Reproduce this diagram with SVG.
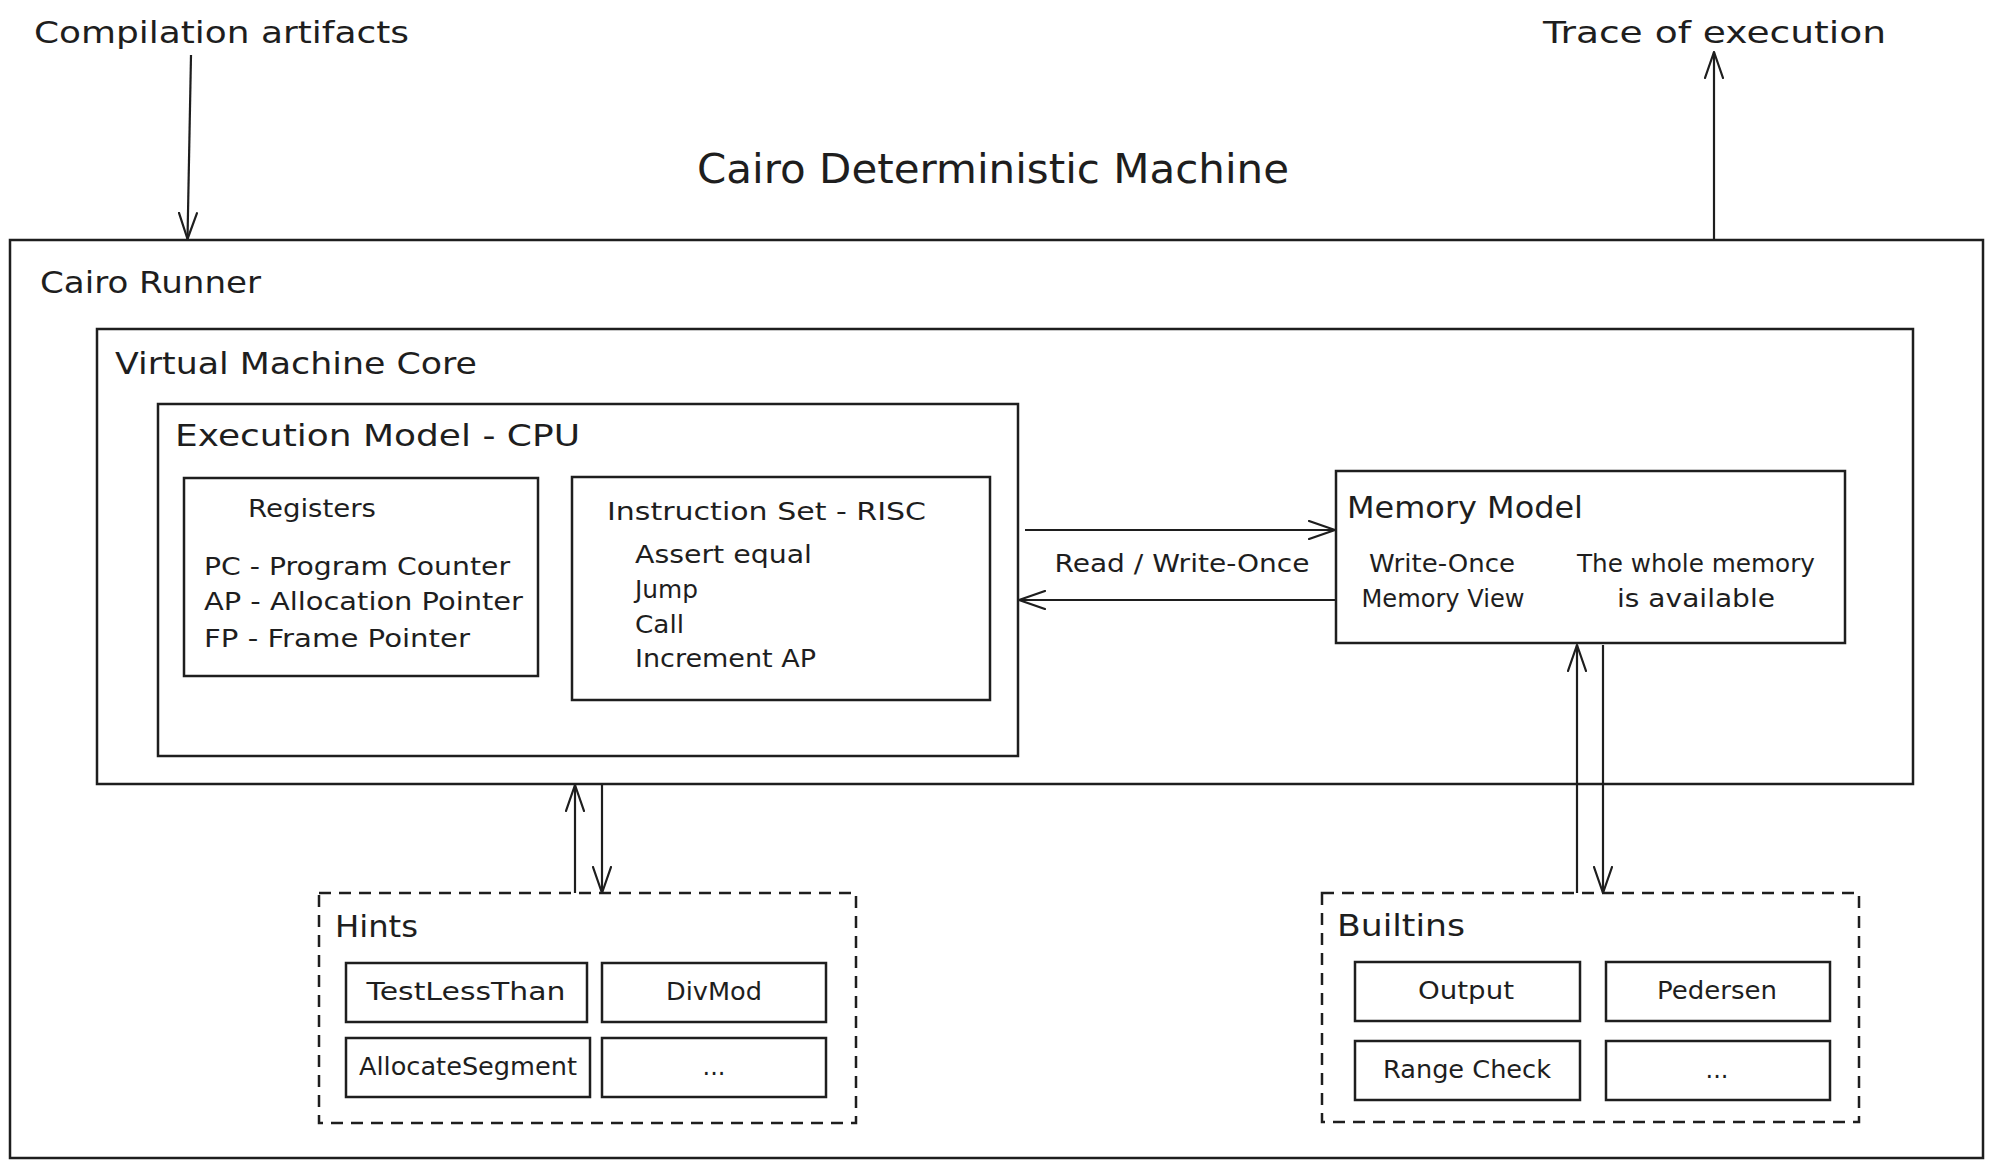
<svg xmlns="http://www.w3.org/2000/svg" width="1993" height="1168" viewBox="0 0 1993 1168">
<style>
.box{fill:none;stroke:#1e1e1e;stroke-width:2.5}
.dash{fill:none;stroke:#1e1e1e;stroke-width:2.5;stroke-dasharray:12 8}
.ln{fill:none;stroke:#1e1e1e;stroke-width:2.2;marker-end:url(#arr)}
text{font-family:"DejaVu Sans","Liberation Sans",sans-serif;fill:#1e1e1e}
.l{font-size:31px}
.t{font-size:41px}
.s{font-size:24px}
.m{text-anchor:middle}
</style>
<defs>
<marker id="arr" viewBox="0 0 28 20" refX="27" refY="10" markerWidth="28" markerHeight="20" orient="auto" markerUnits="userSpaceOnUse">
<path d="M1,1 L27,10 L1,19" fill="none" stroke="#1e1e1e" stroke-width="2.2" stroke-linejoin="round" stroke-linecap="round"/>
</marker>
</defs>
<rect width="1993" height="1168" fill="#ffffff"/>

<g id="label-compilation"><text class="l" x="34" y="43" textLength="375" lengthAdjust="spacingAndGlyphs">Compilation artifacts</text></g>
<g id="label-trace"><text class="l" x="1543" y="43" textLength="343" lengthAdjust="spacingAndGlyphs">Trace of execution</text></g>
<g id="title"><text class="t" x="697" y="183" textLength="592" lengthAdjust="spacingAndGlyphs">Cairo Deterministic Machine</text></g>

<g id="cairo-runner">
<rect class="box" x="10" y="240" width="1973" height="918"/>
<text class="l" x="40" y="293" textLength="221" lengthAdjust="spacingAndGlyphs">Cairo Runner</text>
</g>

<g id="vm-core">
<rect class="box" x="97" y="329" width="1816" height="455"/>
<text class="l" x="115" y="374" textLength="362" lengthAdjust="spacingAndGlyphs">Virtual Machine Core</text>
</g>

<g id="execution-model">
<rect class="box" x="158" y="404" width="860" height="352"/>
<text class="l" x="175" y="446" textLength="405" lengthAdjust="spacingAndGlyphs">Execution Model - CPU</text>
</g>

<g id="registers">
<rect class="box" x="184" y="478" width="354" height="198"/>
<text class="s" x="248" y="517" textLength="128" lengthAdjust="spacingAndGlyphs">Registers</text>
<text class="s" x="204" y="575" textLength="306" lengthAdjust="spacingAndGlyphs">PC - Program Counter</text>
<text class="s" x="204" y="610" textLength="319" lengthAdjust="spacingAndGlyphs">AP - Allocation Pointer</text>
<text class="s" x="204" y="647" textLength="266" lengthAdjust="spacingAndGlyphs">FP - Frame Pointer</text>
</g>

<g id="instruction-set">
<rect class="box" x="572" y="477" width="418" height="223"/>
<text class="s" x="607" y="520" textLength="319" lengthAdjust="spacingAndGlyphs">Instruction Set - RISC</text>
<text class="s" x="635" y="563" textLength="177" lengthAdjust="spacingAndGlyphs">Assert equal</text>
<text class="s" x="635" y="598" textLength="63" lengthAdjust="spacingAndGlyphs">Jump</text>
<text class="s" x="635" y="633" textLength="49" lengthAdjust="spacingAndGlyphs">Call</text>
<text class="s" x="635" y="667" textLength="181" lengthAdjust="spacingAndGlyphs">Increment AP</text>
</g>

<g id="memory-model">
<rect class="box" x="1336" y="471" width="509" height="172"/>
<text class="l" x="1347" y="518" textLength="236" lengthAdjust="spacingAndGlyphs">Memory Model</text>
<text class="s m" x="1442" y="572" textLength="146" lengthAdjust="spacingAndGlyphs">Write-Once</text>
<text class="s m" x="1443" y="607" textLength="163" lengthAdjust="spacingAndGlyphs">Memory View</text>
<text class="s m" x="1696" y="572" textLength="238" lengthAdjust="spacingAndGlyphs">The whole memory</text>
<text class="s m" x="1696" y="607" textLength="158" lengthAdjust="spacingAndGlyphs">is available</text>
</g>

<g id="hints">
<rect class="dash" x="319" y="893" width="537" height="230"/>
<text class="l" x="335" y="937" textLength="83" lengthAdjust="spacingAndGlyphs">Hints</text>
</g>
<g id="hint-testlessthan">
<rect class="box" x="346" y="963" width="241" height="59"/>
<text class="s m" x="466" y="1000" textLength="199" lengthAdjust="spacingAndGlyphs">TestLessThan</text>
</g>
<g id="hint-divmod">
<rect class="box" x="602" y="963" width="224" height="59"/>
<text class="s m" x="714" y="1000" textLength="96" lengthAdjust="spacingAndGlyphs">DivMod</text>
</g>
<g id="hint-allocatesegment">
<rect class="box" x="346" y="1038" width="244" height="59"/>
<text class="s m" x="468" y="1075" textLength="218" lengthAdjust="spacingAndGlyphs">AllocateSegment</text>
</g>
<g id="hint-more">
<rect class="box" x="602" y="1038" width="224" height="59"/>
<text class="s m" x="714" y="1075">...</text>
</g>

<g id="builtins">
<rect class="dash" x="1322" y="893" width="537" height="229"/>
<text class="l" x="1337" y="936" textLength="128" lengthAdjust="spacingAndGlyphs">Builtins</text>
</g>
<g id="builtin-output">
<rect class="box" x="1355" y="962" width="225" height="59"/>
<text class="s m" x="1466" y="999" textLength="96" lengthAdjust="spacingAndGlyphs">Output</text>
</g>
<g id="builtin-pedersen">
<rect class="box" x="1606" y="962" width="224" height="59"/>
<text class="s m" x="1717" y="999" textLength="120" lengthAdjust="spacingAndGlyphs">Pedersen</text>
</g>
<g id="builtin-rangecheck">
<rect class="box" x="1355" y="1041" width="225" height="59"/>
<text class="s m" x="1467" y="1078" textLength="168" lengthAdjust="spacingAndGlyphs">Range Check</text>
</g>
<g id="builtin-more">
<rect class="box" x="1606" y="1041" width="224" height="59"/>
<text class="s m" x="1717" y="1078">...</text>
</g>

<g id="connectors">
<line class="ln" x1="191" y1="55" x2="187.5" y2="239"/>
<line class="ln" x1="1714" y1="240" x2="1714" y2="52"/>
<line class="ln" x1="1025" y1="530" x2="1335" y2="530"/>
<line class="ln" x1="1336" y1="600" x2="1019" y2="600"/>
<line class="ln" x1="575" y1="893" x2="575" y2="785"/>
<line class="ln" x1="602" y1="785" x2="602" y2="893"/>
<line class="ln" x1="1577" y1="893" x2="1577" y2="645"/>
<line class="ln" x1="1603" y1="645" x2="1603" y2="893"/>
<text class="s m" x="1182" y="572" textLength="255" lengthAdjust="spacingAndGlyphs">Read / Write-Once</text>
</g>
</svg>
